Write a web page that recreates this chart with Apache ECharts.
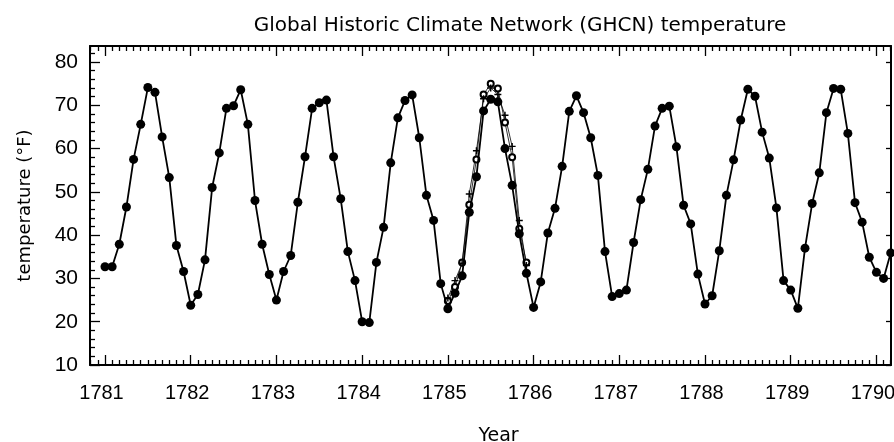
<!DOCTYPE html>
<html>
<head>
<meta charset="utf-8">
<script src="https://cdn.jsdelivr.net/npm/echarts@6/dist/echarts.min.js"></script>
<style>
html,body{margin:0;padding:0;background:#fff;}
#chart{width:894px;height:442px;}
</style>
</head>
<body>
<div id="chart"></div>
<script>
// ---- Data (monthly mean temperature, °F, Jan..Dec) ----
const years = [1781, 1782, 1783, 1784, 1785, 1786, 1787, 1788, 1789, 1790];
const t1781 = [32.7, 32.7, 37.9, 46.5, 57.5, 65.6, 74.1, 73.0, 62.7, 53.3, 37.6, 31.6];
const t1782 = [23.8, 26.3, 34.3, 51.0, 59.0, 69.3, 69.9, 73.6, 65.6, 48.0, 37.9, 30.9];
const t1783 = [25.0, 31.6, 35.3, 47.6, 58.1, 69.3, 70.6, 71.2, 58.1, 48.4, 36.2, 29.5];
const t1784 = [20.0, 19.8, 33.7, 41.8, 56.7, 67.1, 71.1, 72.4, 62.5, 49.2, 43.4, 28.8];
const t1785 = [23.0, 26.6, 30.6, 45.3, 53.5, 68.7, 71.4, 70.8, 60.0, 51.5, 40.3, 31.2];
const t1786 = [23.3, 29.2, 40.5, 46.2, 55.9, 68.6, 72.2, 68.3, 62.5, 53.8, 36.2, 25.8];
const t1787 = [26.5, 27.3, 38.3, 48.2, 55.2, 65.2, 69.3, 69.8, 60.4, 46.9, 42.6, 31.0];
const t1788 = [24.1, 26.0, 36.4, 49.2, 57.4, 66.6, 73.7, 72.1, 63.8, 57.8, 46.3, 29.5];
const t1789 = [27.3, 23.1, 37.0, 47.3, 54.4, 68.3, 73.9, 73.7, 63.5, 47.5, 43.0, 34.9];
const t1790 = [31.4, 30.0, 35.9];
// other stations, 1785 only
const plus1785   = [25.5, 29.5, 33.5, 49.5, 59.5, 71.5, 74.0, 72.5, 67.7, 60.5, 43.4, 33.0];
const circle1785 = [24.8, 28.0, 33.7, 47.0, 57.5, 72.5, 75.0, 73.9, 66.0, 58.0, 41.5, 33.7];

// ---- Tick labels ----
const yearTicks = [1781, 1782, 1783, 1784, 1785, 1786, 1787, 1788, 1789, 1790];
const tempTicks = [10, 20, 30, 40, 50, 60, 70, 80];

const X_MIN = 1780.825, X_MAX = 1790.17;
const Y_MIN = 10, Y_MAX = 83.7;

const monthly = [t1781, t1782, t1783, t1784, t1785, t1786, t1787, t1788, t1789, t1790];
const mainData = [];
monthly.forEach((arr, i) => arr.forEach((v, m) => mainData.push([years[i] + m / 12, v])));
const toPairs = (year, arr) => arr.map((v, m) => [year + m / 12, v]);

const monthTicks = [];
for (let y = 1780; y <= 1790; y++) {
  for (let m = 1; m < 12; m++) {
    const v = y + m / 12;
    if (v > X_MIN && v < X_MAX) monthTicks.push(v);
  }
}
const tempMinor = [];
for (let v = 12; v < Y_MAX; v += 2) if (v % 10 !== 0) tempMinor.push(v);

const FONT = 'Liberation Sans, Arial, sans-serif';
const black = '#000';

function xAx(pos, major) {
  return {
    type: 'value', min: X_MIN, max: X_MAX, position: pos,
    axisLine: { show: major, onZero: false, lineStyle: { color: black, width: 2 } },
    axisTick: { show: true, inside: true, length: major ? 10 : 5,
      customValues: major ? yearTicks : monthTicks,
      lineStyle: { color: black, width: 1.3 } },
    axisLabel: { show: major && pos === 'bottom', customValues: yearTicks,
      formatter: v => String(Math.round(v)), fontSize: 20, color: black,
      fontFamily: FONT, margin: 18, padding: [0, 7, 0, 0] },
    splitLine: { show: false }
  };
}
function yAx(pos, kind) {
  const vals = kind === 'minor' ? tempMinor : tempTicks;
  return {
    type: 'value', min: Y_MIN, max: Y_MAX, position: pos,
    axisLine: { show: kind !== 'minor', onZero: false, lineStyle: { color: black, width: 2 } },
    axisTick: { show: true, inside: true, length: kind === 'major' ? 10 : 5,
      customValues: vals, lineStyle: { color: black, width: 1.3 } },
    axisLabel: { show: kind === 'major', customValues: tempTicks, fontSize: 21,
      color: black, fontFamily: FONT, margin: 12 },
    splitLine: { show: false }
  };
}

const xAxes = [xAx('bottom', true), xAx('bottom', false), xAx('top', true), xAx('top', false)];
xAxes[0].name = 'Year';
xAxes[0].nameLocation = 'middle';
xAxes[0].nameGap = 62;
xAxes[0].nameTextStyle = { fontSize: 19, color: black, fontFamily: 'DejaVu Sans, sans-serif', padding: [0, 0, 0, 16] };

const yAxes = [yAx('left', 'major'), yAx('left', 'minor'), yAx('right', 'right')];
yAxes[0].name = 'temperature (°F)';
yAxes[0].nameLocation = 'middle';
yAxes[0].nameGap = 56;
yAxes[0].nameTextStyle = { fontSize: 18, color: black, fontFamily: 'DejaVu Sans, sans-serif' };

const option = {
  animation: false,
  backgroundColor: '#fff',
  title: {
    text: 'Global Historic Climate Network (GHCN) temperature',
    left: 515, top: 11, textAlign: 'center',
    textStyle: { fontSize: 20, fontWeight: 'normal', color: black, fontFamily: 'DejaVu Sans, sans-serif' }
  },
  grid: { left: 90, right: 3, top: 46, bottom: 77, containLabel: false, outerBoundsMode: 'none' },
  xAxis: xAxes,
  yAxis: yAxes,
  series: [
    {
      type: 'line', xAxisIndex: 0, yAxisIndex: 0, data: toPairs(1785, circle1785),
      symbol: 'emptyCircle', symbolSize: 6,
      lineStyle: { color: black, width: 0.8 },
      itemStyle: { color: black, borderColor: black, borderWidth: 1 }, z: 2
    },
    {
      type: 'line', xAxisIndex: 0, yAxisIndex: 0, data: toPairs(1785, plus1785),
      symbol: 'path://M4,0H6V4H10V6H6V10H4V6H0V4H4Z', symbolSize: 7,
      lineStyle: { color: black, width: 0.8 },
      itemStyle: { color: black }, z: 2
    },
    {
      type: 'line', xAxisIndex: 0, yAxisIndex: 0, data: mainData,
      symbol: 'circle', symbolSize: 9,
      lineStyle: { color: black, width: 1.8 },
      itemStyle: { color: black }, z: 3
    }
  ]
};

const chart = echarts.init(document.getElementById('chart'));
chart.setOption(option);
</script>
</body>
</html>
